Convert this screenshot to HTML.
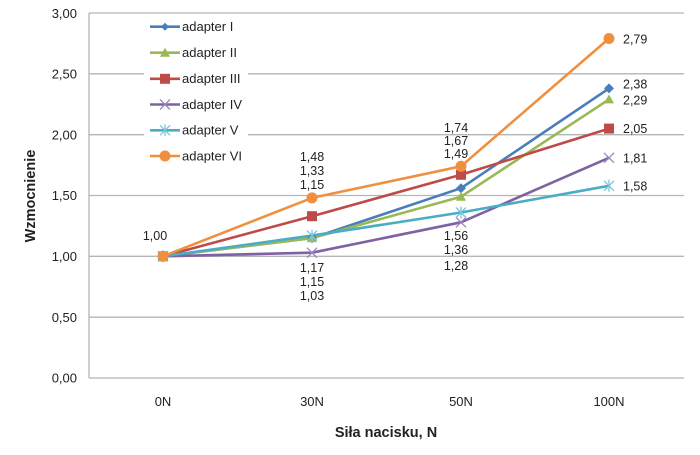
<!DOCTYPE html>
<html><head><meta charset="utf-8"><style>
html,body{margin:0;padding:0;background:#fff;}
svg{display:block;}
text{font-family:"Liberation Sans",sans-serif;fill:#222;}
</style></head><body>
<svg width="700" height="455" viewBox="0 0 700 455" xmlns="http://www.w3.org/2000/svg">
<rect width="700" height="455" fill="#fff"/>
<!-- gridlines -->
<g stroke="#b5b5b5" stroke-width="1.3">
<line x1="89" y1="13" x2="684" y2="13"/>
<line x1="89" y1="73.8" x2="684" y2="73.8"/>
<line x1="89" y1="134.7" x2="684" y2="134.7"/>
<line x1="89" y1="195.5" x2="684" y2="195.5"/>
<line x1="89" y1="256.3" x2="684" y2="256.3"/>
<line x1="89" y1="317.2" x2="684" y2="317.2"/>
<line x1="89" y1="378" x2="684" y2="378"/>
<line x1="89" y1="13" x2="89" y2="378"/>
</g>
<!-- legend background -->
<rect x="144" y="16" width="104" height="154" fill="#fff"/>
<!-- y tick labels -->
<g font-size="13" text-anchor="end">
<text x="77" y="18">3,00</text>
<text x="77" y="78.5">2,50</text>
<text x="77" y="139.5">2,00</text>
<text x="77" y="200">1,50</text>
<text x="77" y="261">1,00</text>
<text x="77" y="322">0,50</text>
<text x="77" y="382.5">0,00</text>
</g>
<!-- x tick labels -->
<g font-size="13" text-anchor="middle">
<text x="163" y="406">0N</text>
<text x="312" y="406">30N</text>
<text x="461" y="406">50N</text>
<text x="609" y="406">100N</text>
</g>
<text x="386" y="437" font-size="14.5" font-weight="bold" text-anchor="middle">Siła nacisku, N</text>
<text transform="translate(35,196) rotate(-90)" font-size="14.5" font-weight="bold" text-anchor="middle">Wzmocnienie</text>

<!-- series -->
<g fill="none" stroke-width="2.6" stroke-linejoin="round">
<polyline stroke="#4a7ebb" points="163,256.3 312,238.1 461,188.2 609,88.4"/>
<polyline stroke="#98b954" points="163,256.3 312,238.1 461,196.7 609,99.4"/>
<polyline stroke="#be4b48" points="163,256.3 312,216.2 461,174.8 609,128.6"/>
<polyline stroke="#7e62a1" points="163,256.3 312,252.7 461,222.3 609,157.8"/>
<polyline stroke="#4bacc6" points="163,256.3 312,235.6 461,212.5 609,185.8"/>
<polyline stroke="#f0903f" points="163,256.3 312,197.9 461,166.3 609,38.5"/>
</g>
<!-- markers I diamond -->
<g fill="#4a7ebb">
<path d="M163,251.3 L168,256.3 L163,261.3 L158,256.3Z"/>
<path d="M312,233.1 L317,238.1 L312,243.1 L307,238.1Z"/>
<path d="M461,183.2 L466,188.2 L461,193.2 L456,188.2Z"/>
<path d="M609,83.4 L614,88.4 L609,93.4 L604,88.4Z"/>
</g>
<!-- II triangle -->
<g fill="#98b954">
<path d="M163,251.3 L168,260.3 L158,260.3Z"/>
<path d="M312,233.1 L317,242.1 L307,242.1Z"/>
<path d="M461,191.7 L466,200.7 L456,200.7Z"/>
<path d="M609,94.4 L614,103.4 L604,103.4Z"/>
</g>
<!-- III square -->
<g fill="#be4b48">
<rect x="158" y="251.3" width="10" height="10"/>
<rect x="307" y="211.2" width="10" height="10"/>
<rect x="456" y="169.8" width="10" height="10"/>
<rect x="604" y="123.6" width="10" height="10"/>
</g>
<!-- IV x -->
<g stroke="#9a88be" stroke-width="1.3">
<path d="M158,251.3 L168,261.3 M168,251.3 L158,261.3"/>
<path d="M307,247.7 L317,257.7 M317,247.7 L307,257.7"/>
<path d="M456,217.3 L466,227.3 M466,217.3 L456,227.3"/>
<path d="M604,152.8 L614,162.8 M614,152.8 L604,162.8"/>
</g>
<!-- V asterisk -->
<g stroke="#7cc5d8" stroke-width="1.3">
<path d="M158,251.3 L168,261.3 M168,251.3 L158,261.3 M163,250.3 L163,262.3"/>
<path d="M307,230.6 L317,240.6 M317,230.6 L307,240.6 M312,229.6 L312,241.6"/>
<path d="M456,207.5 L466,217.5 M466,207.5 L456,217.5 M461,206.5 L461,218.5"/>
<path d="M604,180.8 L614,190.8 M614,180.8 L604,190.8 M609,179.8 L609,191.8"/>
</g>
<!-- VI circle -->
<g fill="#f0903f">
<circle cx="163" cy="256.3" r="5.5"/>
<circle cx="312" cy="197.9" r="5.5"/>
<circle cx="461" cy="166.3" r="5.5"/>
<circle cx="609" cy="38.5" r="5.5"/>
</g>

<!-- data labels -->
<g font-size="12.5" text-anchor="middle">
<text x="155" y="240">1,00</text>
<text x="312" y="161">1,48</text>
<text x="312" y="175">1,33</text>
<text x="312" y="189">1,15</text>
<text x="312" y="272">1,17</text>
<text x="312" y="286">1,15</text>
<text x="312" y="300">1,03</text>
<text x="456" y="132">1,74</text>
<text x="456" y="145">1,67</text>
<text x="456" y="158">1,49</text>
<text x="456" y="240">1,56</text>
<text x="456" y="254">1,36</text>
<text x="456" y="270">1,28</text>
</g>
<g font-size="12.5">
<text x="623" y="43.5">2,79</text>
<text x="623" y="88.5">2,38</text>
<text x="623" y="104.5">2,29</text>
<text x="623" y="133">2,05</text>
<text x="623" y="162.5">1,81</text>
<text x="623" y="190.5">1,58</text>
</g>

<!-- legend -->
<g stroke-width="2.6">
<line x1="150" y1="26.7" x2="180" y2="26.7" stroke="#4a7ebb"/>
<line x1="150" y1="52.7" x2="180" y2="52.7" stroke="#98b954"/>
<line x1="150" y1="78.8" x2="180" y2="78.8" stroke="#be4b48"/>
<line x1="150" y1="104.5" x2="180" y2="104.5" stroke="#7e62a1"/>
<line x1="150" y1="130.3" x2="180" y2="130.3" stroke="#4bacc6"/>
<line x1="150" y1="156" x2="180" y2="156" stroke="#f0903f"/>
</g>
<path d="M165,22.7 L169,26.7 L165,30.7 L161,26.7Z" fill="#4a7ebb"/>
<path d="M165,47.7 L170,56.7 L160,56.7Z" fill="#98b954"/>
<rect x="160" y="73.8" width="10" height="10" fill="#be4b48"/>
<path d="M160,99.5 L170,109.5 M170,99.5 L160,109.5" stroke="#9a88be" stroke-width="1.3"/>
<path d="M160,125.3 L170,135.3 M170,125.3 L160,135.3 M165,124.3 L165,136.3" stroke="#7cc5d8" stroke-width="1.3"/>
<circle cx="165" cy="156" r="5.5" fill="#f0903f"/>
<g font-size="13">
<text x="182" y="31">adapter I</text>
<text x="182" y="57">adapter II</text>
<text x="182" y="83">adapter III</text>
<text x="182" y="109">adapter IV</text>
<text x="182" y="134.5">adapter V</text>
<text x="182" y="160.5">adapter VI</text>
</g>
</svg>
</body></html>
